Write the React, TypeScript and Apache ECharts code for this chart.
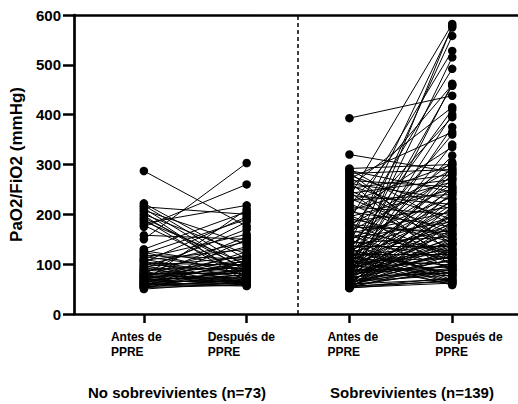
import React, { useEffect, useRef } from "react";
import * as echarts from "echarts";

// Non-survivors (n=73): PaO2/FiO2 before and after PPRE (paired by index)
const NS_BEFORE = [
  287, 150, 175, 222, 218, 215, 212, 208, 205, 200, 197, 193, 190, 186, 182, 178, 158, 130, 127, 124,
  121, 118, 115, 112, 110, 108, 106, 104, 102, 100, 98, 96, 95, 93, 91, 90, 88, 87, 85, 84,
  82, 81, 80, 78, 77, 76, 75, 74, 73, 72, 71, 70, 69, 68, 67, 66, 65, 64, 63, 62,
  61, 60, 60, 59, 58, 57, 56, 55, 55, 54, 53, 52, 50,
];
const NS_AFTER = [
  176, 303, 260, 110, 95, 200, 85, 140, 70, 120, 75, 90, 65, 100, 218, 80, 150, 205, 95, 78,
  190, 110, 88, 160, 72, 130, 62, 195, 98, 84, 145, 68, 115, 60, 170, 92, 76, 105, 58, 135,
  82, 66, 185, 100, 72, 118, 62, 88, 155, 70, 96, 58, 112, 78, 64, 210, 86, 68, 102, 60,
  125, 74, 56, 90, 66, 108, 80, 62, 150, 70, 58, 94, 64,
];

// Survivors (n=139)
const S_BEFORE = [
  393, 320, 292, 290, 288, 285, 282, 278, 275, 272, 268, 265, 262, 258, 255, 252, 248, 245, 242, 238,
  235, 232, 228, 225, 222, 218, 215, 212, 208, 205, 202, 198, 195, 192, 188, 185, 182, 178, 175, 172,
  168, 165, 162, 158, 155, 152, 150, 147, 145, 142, 140, 138, 135, 132, 130, 128, 126, 124, 122, 120,
  118, 116, 114, 112, 110, 108, 106, 104, 102, 100, 99, 98, 96, 95, 94, 92, 91, 90, 89, 88,
  87, 86, 85, 84, 83, 82, 81, 80, 79, 78, 77, 76, 75, 74, 73, 72, 71, 70, 69, 68,
  67, 66, 65, 64, 63, 62, 61, 60, 60, 59, 58, 58, 57, 57, 56, 56, 55, 55, 54, 54,
  53, 53, 52, 52, 100, 110, 120, 130, 140, 150, 125, 115, 105, 95, 85, 75, 65, 180, 160,
];
const S_AFTER = [
  438, 285, 300, 178, 245, 120, 290, 210, 140, 365, 255, 95, 230, 190, 415, 280, 160, 105, 270, 220,
  582, 150, 240, 300, 130, 460, 200, 85, 265, 175, 335, 115, 250, 145, 528, 215, 100, 290, 165, 395,
  125, 275, 205, 90, 492, 185, 235, 110, 305, 155, 575, 260, 135, 195, 80, 410, 225, 170, 285, 120,
  360, 140, 250, 98, 558, 180, 210, 75, 318, 160, 270, 130, 458, 195, 105, 240, 150, 515, 88, 220,
  175, 340, 115, 280, 135, 400, 95, 190, 145, 255, 120, 375, 82, 165, 230, 108, 578, 125, 200, 92,
  295, 155, 78, 185, 110, 462, 140, 70, 215, 100, 170, 85, 245, 118, 65, 130, 90, 205, 72, 150,
  62, 102, 180, 68, 60, 58, 64, 66, 74, 68, 80, 62, 112, 125, 96, 142, 88, 160, 122,
];

const X_POS = [1, 2, 3, 4];
const X_LABELS = ["Antes de\nPPRE", "Después de\nPPRE", "Antes de\nPPRE", "Después de\nPPRE"];
const GROUP_LABELS = ["No sobrevivientes (n=73)", "Sobrevivientes (n=139)"];
const Y_TITLE = "PaO2/FiO2 (mmHg)";

const FONT = "'Liberation Sans', Arial, sans-serif";

export default function App() {
  const ref = useRef<HTMLDivElement>(null);

  useEffect(() => {
    if (!ref.current) return;
    const chart = echarts.init(ref.current, undefined, { renderer: "svg" });

    const pairs = (before: number[], after: number[], x0: number, x1: number) =>
      before.map((b, i) => ({ coords: [[x0, b], [x1, after[i]]] }));
    const lineData = [
      ...pairs(NS_BEFORE, NS_AFTER, X_POS[0], X_POS[1]),
      ...pairs(S_BEFORE, S_AFTER, X_POS[2], X_POS[3]),
    ];
    const dots = [
      ...NS_BEFORE.map((v) => [X_POS[0], v]),
      ...NS_AFTER.map((v) => [X_POS[1], v]),
      ...S_BEFORE.map((v) => [X_POS[2], v]),
      ...S_AFTER.map((v) => [X_POS[3], v]),
    ];

    const labelStyles = [
      { w: 50, pad: [0, 16, 0, 0] },
      { w: 68, pad: [0, 10, 0, 0] },
      { w: 50, pad: [0, 0, 0, 6] },
      { w: 68, pad: [0, 0, 0, 34] },
    ];
    const rich: Record<string, any> = {};
    labelStyles.forEach((s, i) => {
      rich["t" + i] = {
        width: s.w,
        align: "left",
        padding: s.pad,
        fontSize: 12,
        fontWeight: "bold",
        fontFamily: FONT,
        color: "#000",
        lineHeight: 15,
      };
    });

    const axisLineStyle = { color: "#000", width: 2.7, opacity: 1 };

    chart.setOption({
      animation: false,
      backgroundColor: "#fff",
      grid: { left: 74, right: 0, top: 15, bottom: 90, containLabel: false },
      xAxis: [
        {
          type: "value",
          min: 0.32,
          max: 4.64,
          position: "bottom",
          axisLine: { show: true, onZero: false, lineStyle: axisLineStyle },
          axisTick: { show: true, customValues: X_POS, length: 9, lineStyle: { color: "#000", width: 2.5 } },
          axisLabel: {
            customValues: X_POS,
            margin: 15,
            formatter: (v: number) => {
              const i = X_POS.indexOf(Math.round(v));
              if (i < 0) return "";
              return X_LABELS[i]
                .split("\n")
                .map((l) => `{t${i}|${l}}`)
                .join("\n");
            },
            rich,
          },
          splitLine: { show: false },
        },
        {
          type: "value",
          min: 0.32,
          max: 4.64,
          position: "top",
          axisLine: { show: true, onZero: false, lineStyle: axisLineStyle },
          axisTick: { show: false },
          axisLabel: { show: false },
          splitLine: { show: false },
        },
      ],
      yAxis: {
        type: "value",
        min: 0,
        max: 600,
        interval: 100,
        name: Y_TITLE,
        nameLocation: "middle",
        nameGap: 45,
        nameTextStyle: { fontSize: 17, fontWeight: "bold", color: "#000", fontFamily: FONT },
        axisLine: { show: true, onZero: false, lineStyle: axisLineStyle },
        axisTick: { show: true, length: 11, lineStyle: { color: "#000", width: 2.5, opacity: 1 } },
        axisLabel: { fontSize: 15, fontWeight: "bold", color: "#000", fontFamily: FONT, margin: 13 },
        splitLine: { show: false },
      },
      series: [
        {
          type: "lines",
          coordinateSystem: "cartesian2d",
          xAxisIndex: 0,
          yAxisIndex: 0,
          silent: true,
          z: 2,
          lineStyle: { color: "#000", width: 1, opacity: 1 },
          data: lineData,
        },
        {
          type: "scatter",
          xAxisIndex: 0,
          yAxisIndex: 0,
          silent: true,
          z: 3,
          symbol: "circle",
          symbolSize: 8.5,
          itemStyle: { color: "#000", opacity: 1 },
          data: dots,
          markLine: {
            silent: true,
            symbol: ["none", "none"],
            label: { show: false },
            lineStyle: { type: [4, 3], color: "#000", width: 1.5, opacity: 1 },
            data: [{ xAxis: 2.5 }],
          },
        },
      ],
      graphic: [
        {
          type: "text",
          x: 177,
          y: 392,
          style: {
            text: GROUP_LABELS[0],
            textAlign: "center",
            textVerticalAlign: "middle",
            fontSize: 15,
            fontWeight: "bold",
            fontFamily: FONT,
            fill: "#000",
          },
        },
        {
          type: "text",
          x: 412,
          y: 392,
          style: {
            text: GROUP_LABELS[1],
            textAlign: "center",
            textVerticalAlign: "middle",
            fontSize: 15,
            fontWeight: "bold",
            fontFamily: FONT,
            fill: "#000",
          },
        },
      ],
    });

    return () => chart.dispose();
  }, []);

  return (
    <div
      ref={ref}
      style={{ position: "fixed", left: 0, top: 0, width: 518, height: 404, background: "#fff" }}
    />
  );
}
